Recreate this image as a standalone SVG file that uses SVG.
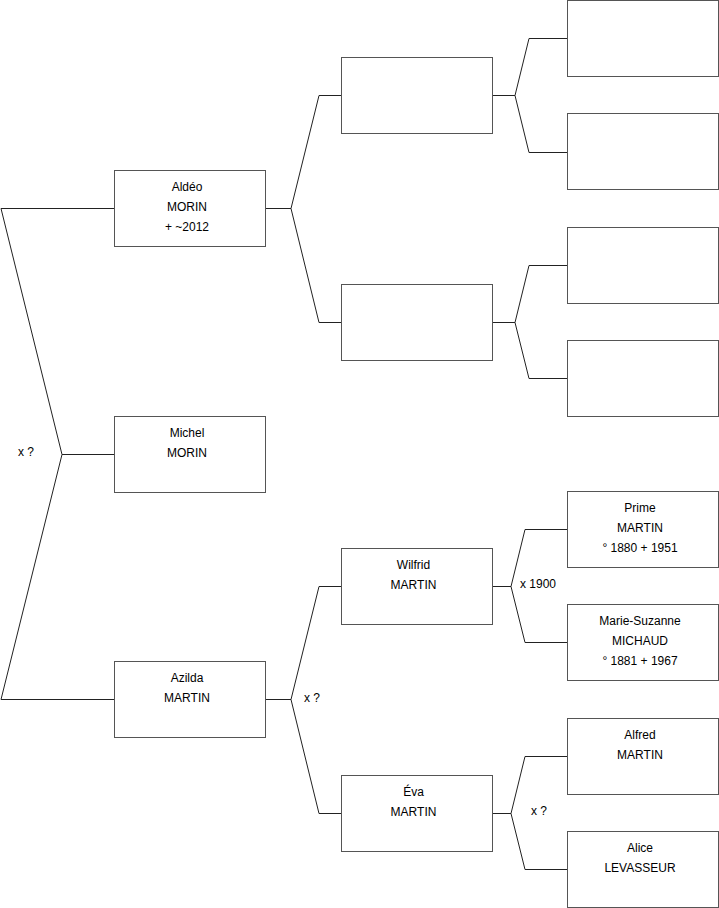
<svg xmlns="http://www.w3.org/2000/svg" width="719" height="908" viewBox="0 0 719 908">
<style>
.box{fill:#fff;stroke:#555;stroke-width:1}
.ln{fill:none;stroke:#222;stroke-width:1}
text{font-family:"Liberation Sans",Arial,sans-serif;font-size:12px;fill:#000}
.c{text-anchor:middle}
</style>
<rect width="719" height="908" fill="#fff"/>
<g id="connectors">
<polyline class="ln" points="114,208.5 1,208.5 62,454.5 1,699.5 114,699.5"/>
<line class="ln" x1="62" y1="454.5" x2="114" y2="454.5"/>
<polyline class="ln" points="265,208.5 291,208.5"/>
<polyline class="ln" points="341,95.5 319,95.5 291,208.5 319,322.5 341,322.5"/>
<polyline class="ln" points="265,699.5 291,699.5"/>
<polyline class="ln" points="341,586.5 319,586.5 291,699.5 319,813.5 341,813.5"/>
<polyline class="ln" points="492,95.5 515,95.5"/>
<polyline class="ln" points="567,38.5 529,38.5 515,95.5 529,152.5 567,152.5"/>
<polyline class="ln" points="492,322.5 515,322.5"/>
<polyline class="ln" points="567,265.5 529,265.5 515,322.5 529,378.5 567,378.5"/>
<polyline class="ln" points="492,586.5 511,586.5"/>
<polyline class="ln" points="567,529.5 525,529.5 511,586.5 525,642.5 567,642.5"/>
<polyline class="ln" points="492,813.5 511,813.5"/>
<polyline class="ln" points="567,756.5 525,756.5 511,813.5 525,869.5 567,869.5"/>
<text x="18" y="456">x ?</text>
<text x="304" y="702">x ?</text>
<text x="520" y="588">x 1900</text>
<text x="531" y="815">x ?</text>
</g>
<g id="aldeo"><rect class="box" x="114.5" y="170.5" width="151" height="76"/>
<text class="c" x="187" y="191">Aldéo</text><text class="c" x="187" y="211">MORIN</text><text class="c" x="187" y="231">+ ~2012</text></g>
<g id="michel"><rect class="box" x="114.5" y="416.5" width="151" height="76"/>
<text class="c" x="187" y="437">Michel</text><text class="c" x="187" y="457">MORIN</text></g>
<g id="azilda"><rect class="box" x="114.5" y="661.5" width="151" height="76"/>
<text class="c" x="187" y="682">Azilda</text><text class="c" x="187" y="702">MARTIN</text></g>
<g id="p1"><rect class="box" x="341.5" y="57.5" width="151" height="76"/></g>
<g id="p2"><rect class="box" x="341.5" y="284.5" width="151" height="76"/></g>
<g id="wilfrid"><rect class="box" x="341.5" y="548.5" width="151" height="76"/>
<text class="c" x="413.5" y="569">Wilfrid</text><text class="c" x="413.5" y="589">MARTIN</text></g>
<g id="eva"><rect class="box" x="341.5" y="775.5" width="151" height="76"/>
<text class="c" x="413.5" y="796">Éva</text><text class="c" x="413.5" y="816">MARTIN</text></g>
<g id="g1"><rect class="box" x="567.5" y="0.5" width="151" height="76"/></g>
<g id="g2"><rect class="box" x="567.5" y="113.5" width="151" height="76"/></g>
<g id="g3"><rect class="box" x="567.5" y="227.5" width="151" height="76"/></g>
<g id="g4"><rect class="box" x="567.5" y="340.5" width="151" height="76"/></g>
<g id="prime"><rect class="box" x="567.5" y="491.5" width="151" height="76"/>
<text class="c" x="640" y="512">Prime</text><text class="c" x="640" y="532">MARTIN</text><text class="c" x="640" y="552">° 1880 + 1951</text></g>
<g id="marie"><rect class="box" x="567.5" y="604.5" width="151" height="76"/>
<text class="c" x="640" y="625">Marie-Suzanne</text><text class="c" x="640" y="645">MICHAUD</text><text class="c" x="640" y="665">° 1881 + 1967</text></g>
<g id="alfred"><rect class="box" x="567.5" y="718.5" width="151" height="76"/>
<text class="c" x="640" y="739">Alfred</text><text class="c" x="640" y="759">MARTIN</text></g>
<g id="alice"><rect class="box" x="567.5" y="831.5" width="151" height="76"/>
<text class="c" x="640" y="852">Alice</text><text class="c" x="640" y="872">LEVASSEUR</text></g>
</svg>
